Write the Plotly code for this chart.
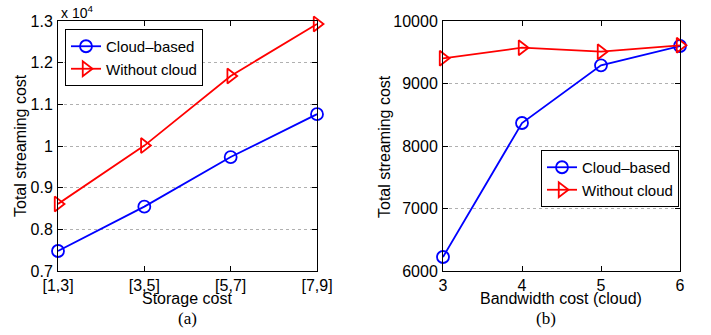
import plotly.graph_objects as go

# Left chart (a)
storage_cats = ["[1,3]", "[3,5]", "[5,7]", "[7,9]"]
cloud_a = [7480, 8545, 9735, 10765]
nocloud_a = [8610, 10010, 11680, 12930]
ytick_vals_a = [7000, 8000, 9000, 10000, 11000, 12000, 13000]
ytick_text_a = ["0.7", "0.8", "0.9", "1", "1.1", "1.2", "1.3"]

# Right chart (b)
bandwidth = [3, 4, 5, 6]
cloud_b = [6224, 8368, 9291, 9600]
nocloud_b = [9403, 9573, 9509, 9611]

BLUE = "#0000FF"
RED = "#FF0000"
FONT = "Liberation Sans"
FS = 16

fig = go.Figure()

def add(x, y, name, color, symbol, size, xa, ya, leg):
    fig.add_trace(go.Scatter(x=x, y=y, name=name, mode="lines+markers",
                             line=dict(color=color, width=1.8),
                             marker=dict(symbol=symbol, size=size, color=color, line=dict(width=1.8)),
                             xaxis=xa, yaxis=ya, legend=leg, cliponaxis=False))

add(storage_cats, cloud_a, "Cloud–based", BLUE, "circle-open", 12, "x", "y", "legend")
add(storage_cats, nocloud_a, "Without cloud", RED, "triangle-right-open", 13, "x", "y", "legend")
add(bandwidth, cloud_b, "Cloud–based", BLUE, "circle-open", 12, "x2", "y2", "legend2")
add(bandwidth, nocloud_b, "Without cloud", RED, "triangle-right-open", 13, "x2", "y2", "legend2")

axis_common = dict(showline=True, linecolor="black", linewidth=1, mirror="ticks",
                   ticks="inside", ticklen=5, tickcolor="black", automargin=False,
                   tickfont=dict(family=FONT, size=FS, color="black"), zeroline=False)

ydom = [1 - 271 / 335, 1 - 21 / 335]

def ann(text, x, y, size=FS, family=FONT, angle=0):
    return dict(text=text, x=x / 711, y=1 - y / 335, xref="paper", yref="paper",
                xanchor="center", yanchor="middle", showarrow=False, textangle=angle,
                font=dict(family=family, size=size, color="black"))

leg_common = dict(xanchor="left", yanchor="top", bgcolor="white", bordercolor="black",
                  borderwidth=1, font=dict(family=FONT, size=15), tracegroupgap=0, itemwidth=30)

grid = dict(showgrid=True, gridcolor="#b0b0b0", griddash="dot", gridwidth=1)

fig.update_layout(
    width=711, height=335,
    margin=dict(l=0, r=0, t=0, b=0),
    paper_bgcolor="white", plot_bgcolor="white",
    font=dict(family=FONT, size=FS, color="black"),
    xaxis=dict(domain=[58 / 711, 317 / 711], type="category", range=[0, 3],
               showgrid=False, ticklabelstandoff=0, **axis_common),
    yaxis=dict(domain=ydom, range=[7000, 13000], tickvals=ytick_vals_a, ticktext=ytick_text_a,
               ticklabelstandoff=1, **grid, **axis_common),
    xaxis2=dict(domain=[443 / 711, 680 / 711], range=[3, 6], dtick=1, anchor="y2",
                showgrid=False, ticklabelstandoff=0, **axis_common),
    yaxis2=dict(domain=ydom, range=[6000, 10000], dtick=1000, tickformat="d", anchor="x2",
                ticklabelstandoff=1, **grid, **axis_common),
    legend=dict(x=65 / 711, y=1 - 29 / 335, **leg_common),
    legend2=dict(x=541 / 711, y=1 - 150 / 335, **leg_common),
    showlegend=True,
    annotations=[
        dict(text="x 10<sup>4</sup>", x=59 / 711, y=1 - 12 / 335, xref="paper", yref="paper",
             xanchor="left", yanchor="middle", showarrow=False,
             font=dict(family=FONT, size=14, color="black")),
        ann("Storage cost", 187, 298),
        ann("Bandwidth cost (cloud)", 561, 298),
        ann("Total streaming cost", 20, 146, angle=-90),
        ann("Total streaming cost", 384, 146, angle=-90),
        ann("(a)", 187, 318, size=17, family="Liberation Serif"),
        ann("(b)", 546, 318, size=17, family="Liberation Serif"),
    ],
)

fig.write_html("out.html", config={"displayModeBar": False},
               post_script="document.body.style.margin='0';document.body.style.overflow='hidden';")
